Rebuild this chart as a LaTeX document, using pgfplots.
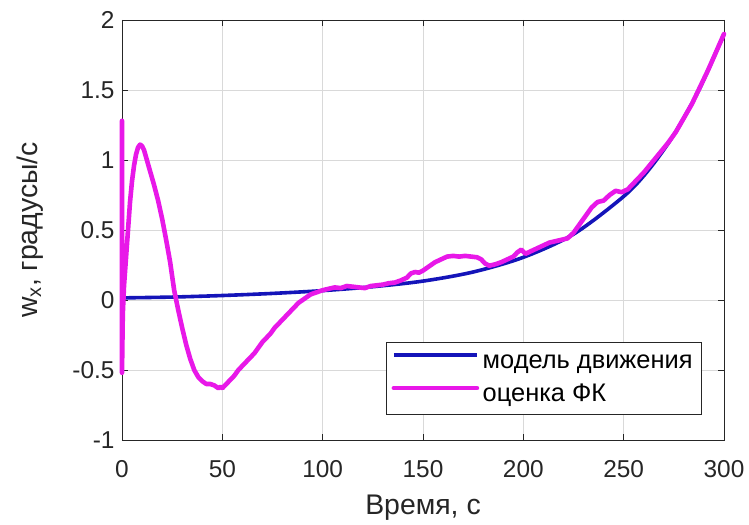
\documentclass[border=0pt]{standalone}
\usepackage{fontspec}
\setmainfont{Liberation Sans}
\usepackage{pgfplots}
\pgfplotsset{compat=1.18}
\definecolor{modelblue}{RGB}{20,20,185}
\definecolor{fkmag}{RGB}{232,24,232}
\definecolor{axgray}{RGB}{38,38,38}

\begin{document}
\begin{tikzpicture}
% fixed page frame around the axis box
\path[use as bounding box] (-122bp,-85bp) rectangle (627bp,440bp);
\begin{axis}[
  at={(0,0)}, anchor=south west,
  scale only axis, width=602bp, height=420bp,
  xmin=0, xmax=300, ymin=-1, ymax=2,
  clip=false,
  xtick={0,50,...,300}, ytick={-1,-0.5,...,2},
  tick pos=both, tick align=inside, major tick length=6bp,
  grid=major, grid style={black!15, line width=0.7bp},
  axis line style={line width=0.8bp, axgray},
  tick style={axgray, line width=0.7bp},
  /pgf/number format/assume math mode=true,
  ticklabel style={font=\fontsize{24.5}{29}\selectfont, text=axgray},
  xticklabel style={anchor=base, yshift=-37bp},
  yticklabel style={/pgf/number format/fixed, xshift=-4bp},
  xlabel={Время, с},
  ylabel={w\textsubscript{x}, градусы/с},
  label style={font=\fontsize{28.5}{33}\selectfont, text=axgray},
  xlabel style={at={(axis description cs:0.5,0)}, anchor=base, yshift=-74bp},
  ylabel style={at={(axis description cs:-0.1528,0.5)}, anchor=center},
  legend style={at={(1,0)}, anchor=south east, xshift=-22bp, yshift=25bp,
    font=\fontsize{25.5}{30}\selectfont, draw=axgray, line width=0.8bp,
    inner xsep=5.5bp, inner ysep=7bp, row sep=8bp,
    nodes={inner xsep=3.5bp, inner ysep=0bp, text height=19bp, text depth=6bp}},
  legend cell align=left,
  legend image code/.code={\draw[#1] (0bp,7bp) -- (83bp,7bp);},
]
% motion model
\addplot[modelblue, line width=3.6bp, smooth] coordinates {
  (0,0.015) (25,0.021) (50,0.032) (75,0.047) (100,0.067) (125,0.095)
  (150,0.135) (175,0.2) (200,0.305) (225,0.47) (250,0.74) (262.5,0.93)
  (275,1.18) (287.5,1.5) (300,1.9)
};
\addlegendentry{модель движения}
% Kalman filter estimate
\addplot[fkmag, line width=4.6bp, line join=round, line cap=round] coordinates {
  (0,0.02) (0,1.28) (0,-0.52) (0.4,-0.1) (1.0,0.1) (2,0.3)
  (3,0.5) (4,0.7) (5,0.85) (6,0.96) (7,1.04) (8,1.09) (9,1.11) (10,1.10)
  (11,1.07) (12,1.02) (13,0.97) (14,0.92) (16,0.82) (18,0.71) (20,0.58)
  (22,0.43) (24,0.27) (26,0.07) (28,-0.07) (30,-0.2) (32,-0.32) (34,-0.42)
  (36,-0.5) (38,-0.55) (40,-0.58) (42,-0.6) (44,-0.6) (46,-0.61) (48,-0.63)
  (49,-0.62) (50,-0.63) (52,-0.6) (54,-0.57) (56,-0.54) (58,-0.5) (60,-0.47)
  (62,-0.44) (64,-0.41) (66,-0.38) (68,-0.34) (70,-0.3) (72,-0.27) (74,-0.24)
  (76,-0.2) (78,-0.17) (80,-0.14) (82,-0.11) (84,-0.08) (86,-0.05) (88,-0.02)
  (90,0.0) (92,0.02) (94,0.04) (96,0.05) (98,0.06) (100,0.07) (103,0.08)
  (106,0.09) (109,0.085) (112,0.1) (115,0.095) (118,0.09) (121,0.085)
  (124,0.1) (127,0.105) (130,0.11) (133,0.12) (136,0.125) (139,0.14)
  (142,0.16) (144,0.19) (146,0.2) (148,0.195) (150,0.21) (153,0.24)
  (156,0.27) (159,0.29) (162,0.31) (165,0.315) (168,0.31) (171,0.315)
  (174,0.31) (177,0.305) (179,0.29) (181,0.26) (183,0.245) (186,0.255)
  (189,0.27) (192,0.29) (195,0.31) (197,0.34) (199,0.36) (201,0.33)
  (204,0.35) (207,0.37) (210,0.39) (213,0.41) (216,0.42) (219,0.43)
  (222,0.44) (225,0.48) (228,0.54) (231,0.6) (234,0.66) (237,0.7) (240,0.71)
  (243,0.75) (246,0.78) (249,0.77) (252,0.79) (256,0.85) (260,0.91)
  (264,0.98) (268,1.05) (272,1.12) (276,1.2) (280,1.3) (284,1.4) (288,1.52)
  (292,1.64) (296,1.77) (300,1.9)
};
\addlegendentry{оценка ФК}
\end{axis}
\end{tikzpicture}
\end{document}
